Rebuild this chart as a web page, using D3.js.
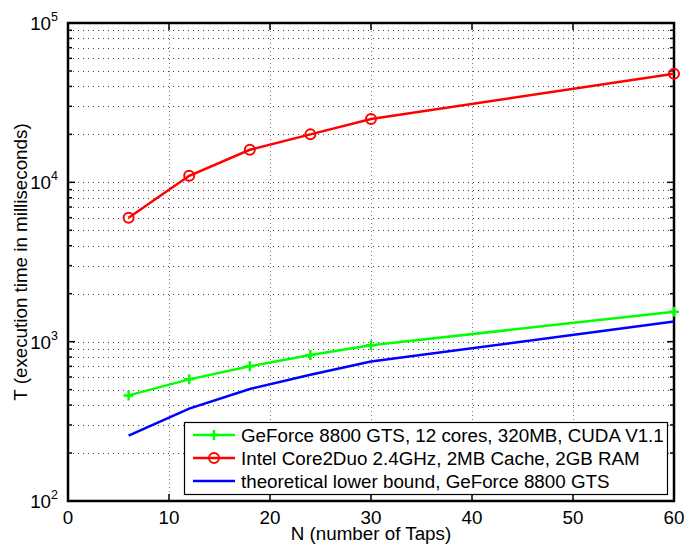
<!DOCTYPE html>
<html>
<head>
<title>FIR filter timing</title>
<script src="https://d3js.org/d3.v7.min.js" charset="utf-8"></script>
<style>
  body { margin: 0; background: white; }
  text { font-family: "Liberation Sans", Arial, sans-serif; fill: #000; }
  .grid line { stroke: #444; stroke-width: 1; stroke-dasharray: 1,4; }
  .vgrid line { stroke: #777; stroke-dasharray: 1,3; }
</style>
</head>
<body>
<script>
// data
var taps = [6, 12, 18, 24, 30, 60];
var gpuTimes = [460, 580, 700, 825, 950, 1540];
var cpuTimes = [6000, 11000, 16000, 20000, 25000, 48000];
var boundTimes = [257, 380, 505, 620, 750, 1340];
var xTicks = [0, 10, 20, 30, 40, 50, 60];
var yTicks = [1e2, 1e3, 1e4, 1e5];
var legendNames = [
  "GeForce 8800 GTS, 12 cores, 320MB, CUDA V1.1",
  "Intel Core2Duo 2.4GHz, 2MB Cache, 2GB RAM",
  "theoretical lower bound, GeForce 8800 GTS"
];

var width = 685, height = 546;
var padL = 68, padR = 674, padT = 23, padB = 501;
var fs = 18.8;

var svg = d3.select("body").append("svg")
  .attr("width", width)
  .attr("height", height);

var x = d3.scaleLinear().domain([0, 60]).range([padL, padR]);
var y = d3.scaleLog().domain([1e2, 1e5]).range([padB, padT]);

// minor values for log grid
var minorVals = [];
[1e2, 1e3, 1e4].forEach(function(d) {
  for (var k = 2; k <= 9; k++) minorVals.push(d * k);
});

// horizontal grid (major + minor)
svg.append("g").attr("class", "grid")
  .selectAll("line")
  .data(minorVals.concat([1e3, 1e4]))
  .enter().append("line")
  .attr("x1", padL).attr("x2", padR)
  .attr("y1", function(d) { return Math.round(y(d)) + 0.5; })
  .attr("y2", function(d) { return Math.round(y(d)) + 0.5; });

// vertical grid
svg.append("g").attr("class", "grid vgrid")
  .selectAll("line")
  .data(xTicks.slice(1, -1))
  .enter().append("line")
  .attr("y1", padT).attr("y2", padB)
  .attr("x1", function(d) { return Math.round(x(d)) + 0.5; })
  .attr("x2", function(d) { return Math.round(x(d)) + 0.5; });

// ticks, inward, all four sides
var ticks = svg.append("g").attr("stroke", "#000").attr("stroke-width", 1.5);
xTicks.forEach(function(d) {
  ticks.append("line").attr("x1", x(d)).attr("x2", x(d)).attr("y1", padB).attr("y2", padB - 7);
  ticks.append("line").attr("x1", x(d)).attr("x2", x(d)).attr("y1", padT).attr("y2", padT + 7);
});
yTicks.forEach(function(d) {
  ticks.append("line").attr("x1", padL).attr("x2", padL + 7).attr("y1", y(d)).attr("y2", y(d));
  ticks.append("line").attr("x1", padR).attr("x2", padR - 7).attr("y1", y(d)).attr("y2", y(d));
});
minorVals.forEach(function(d) {
  ticks.append("line").attr("x1", padL).attr("x2", padL + 4).attr("y1", y(d)).attr("y2", y(d));
  ticks.append("line").attr("x1", padR).attr("x2", padR - 4).attr("y1", y(d)).attr("y2", y(d));
});

// box
svg.append("rect")
  .attr("x", padL).attr("y", padT)
  .attr("width", padR - padL).attr("height", padB - padT)
  .attr("fill", "none").attr("stroke", "#000").attr("stroke-width", 2.5);

// tick labels
svg.append("g").selectAll("text")
  .data(xTicks)
  .enter().append("text")
  .attr("x", function(d) { return x(d); })
  .attr("y", padB + 23)
  .attr("text-anchor", "middle")
  .attr("font-size", fs)
  .text(function(d) { return d; });

var yl = svg.append("g").selectAll("text")
  .data(yTicks)
  .enter().append("text")
  .attr("x", padL - 10)
  .attr("y", function(d) { return y(d) + 7; })
  .attr("text-anchor", "end")
  .attr("font-size", fs);
yl.append("tspan").text("10");
yl.append("tspan")
  .attr("dy", -9)
  .attr("font-size", 12.5)
  .text(function(d) { return Math.round(Math.log10(d)); });

// axis titles
svg.append("text")
  .attr("x", (padL + padR) / 2)
  .attr("y", 540)
  .attr("text-anchor", "middle")
  .attr("font-size", fs)
  .text("N (number of Taps)");

svg.append("text")
  .attr("transform", "translate(27," + ((padT + padB) / 2) + ") rotate(-90)")
  .attr("text-anchor", "middle")
  .attr("font-size", fs)
  .text("T (execution time in milliseconds)");

// series
var line = d3.line()
  .x(function(d) { return x(d[0]); })
  .y(function(d) { return y(d[1]); });

function zip(vals) { return taps.map(function(t, i) { return [t, vals[i]]; }); }

var series = [
  { vals: gpuTimes, color: "#00ff00", marker: "plus" },
  { vals: cpuTimes, color: "#ff0000", marker: "circle" },
  { vals: boundTimes, color: "#0000ff", marker: "none" }
];

function drawMarker(g, kind, color, cx, cy) {
  if (kind == "plus") {
    g.append("path")
      .attr("d", "M" + (cx - 5) + "," + cy + "H" + (cx + 5) + "M" + cx + "," + (cy - 5) + "V" + (cy + 5))
      .attr("stroke", color).attr("stroke-width", 2.5).attr("fill", "none");
  } else if (kind == "circle") {
    g.append("circle")
      .attr("cx", cx).attr("cy", cy).attr("r", 5)
      .attr("stroke", color).attr("stroke-width", 2).attr("fill", "none");
  }
}

series.forEach(function(s) {
  var g = svg.append("g");
  g.append("path")
    .datum(zip(s.vals))
    .attr("d", line)
    .attr("fill", "none")
    .attr("stroke", s.color)
    .attr("stroke-width", 2.5);
  zip(s.vals).forEach(function(d) {
    drawMarker(g, s.marker, s.color, x(d[0]), y(d[1]));
  });
});

// legend
var lg = svg.append("g");
lg.append("rect")
  .attr("x", 184.5).attr("y", 422.5)
  .attr("width", 483).attr("height", 72)
  .attr("fill", "white").attr("stroke", "#000").attr("stroke-width", 1.2);

series.forEach(function(s, i) {
  var yy = 435 + i * 23;
  lg.append("line")
    .attr("x1", 193).attr("x2", 235)
    .attr("y1", yy).attr("y2", yy)
    .attr("stroke", s.color).attr("stroke-width", 2.5);
  drawMarker(lg, s.marker, s.color, 214, yy);
  lg.append("text")
    .attr("x", 241).attr("y", yy + 7)
    .attr("font-size", fs)
    .text(legendNames[i]);
});
</script>
</body>
</html>
